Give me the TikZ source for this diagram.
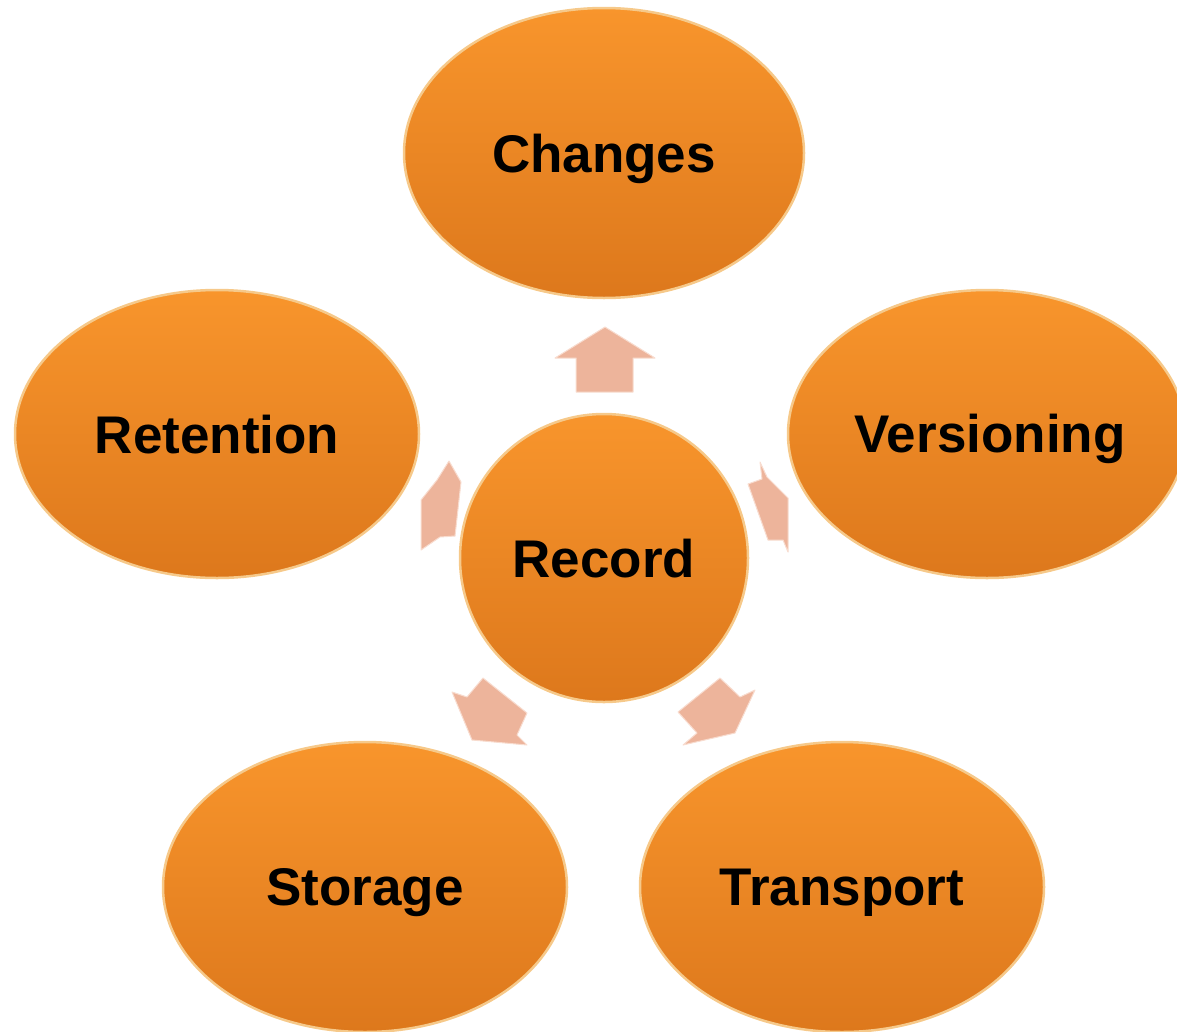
\documentclass[tikz,border=0pt]{standalone}
\usepackage{fontspec}
\setmainfont{Liberation Sans}
\usetikzlibrary{shapes.geometric}
\definecolor{orgtop}{HTML}{F8952C}
\definecolor{orgbot}{HTML}{DD781C}
\definecolor{orgrim}{HTML}{F6C98A}
\definecolor{arrfill}{HTML}{EDB49B}
\definecolor{arredge}{HTML}{F8DCCF}
\tikzset{
  bubble/.style={ellipse, inner sep=0pt, top color=orgtop, bottom color=orgbot,
    draw=orgrim, line width=2.5pt, font=\fontsize{53}{60}\selectfont\bfseries, text=black,
    text depth=0pt},
  flowarrow/.style={fill=arrfill, draw=arredge, line width=1pt, line join=round}
}
\begin{document}
\begin{tikzpicture}[x=1pt,y=-1pt]
\useasboundingbox (0,0) rectangle (1177,1031);
\clip (0,0) rectangle (1177,1031);
\node[bubble, minimum width=400pt, minimum height=290pt] (changes) at (604,153) {Changes};
\node[bubble, minimum width=404pt, minimum height=288pt] (retention) at (217,434) {Retention};
\node[bubble, minimum width=398pt, minimum height=288pt] (versioning) at (987,434) {};
\node[font=\fontsize{53}{60}\selectfont\bfseries, text depth=0pt] (versioningtext) at (990,433) {Versioning};
\node[bubble, minimum width=288pt, minimum height=288pt] (record) at (604,558) {Record};
\node[bubble, minimum width=404pt, minimum height=290pt] (storage) at (365,887) {Storage};
\node[bubble, minimum width=404pt, minimum height=290pt] (transport) at (842,887) {Transport};
% arrows from Record to outer bubbles
\draw[flowarrow] (605,327) -- (655,358) -- (633,358) -- (633,392) -- (576,392) -- (576,358) -- (555,358) -- cycle;
\draw[flowarrow] (449,461) -- (461,482) -- (455,536) -- (440,537) -- (421,550) -- (421,500) -- (437,480) -- cycle;
\draw[flowarrow] (760,462) -- (767,477) -- (788,498) -- (788,552) -- (783,540) -- (768,540) -- (748,484) -- (762,479) -- cycle;
\draw[flowarrow] (452,692) -- (467,697) -- (483,678) -- (527,713) -- (517,735) -- (527,745) -- (472,740) -- cycle;
\draw[flowarrow] (678,712) -- (720,678) -- (740,697) -- (755,690) -- (735,733) -- (683,745) -- (697,733) -- cycle;
\end{tikzpicture}
\end{document}
